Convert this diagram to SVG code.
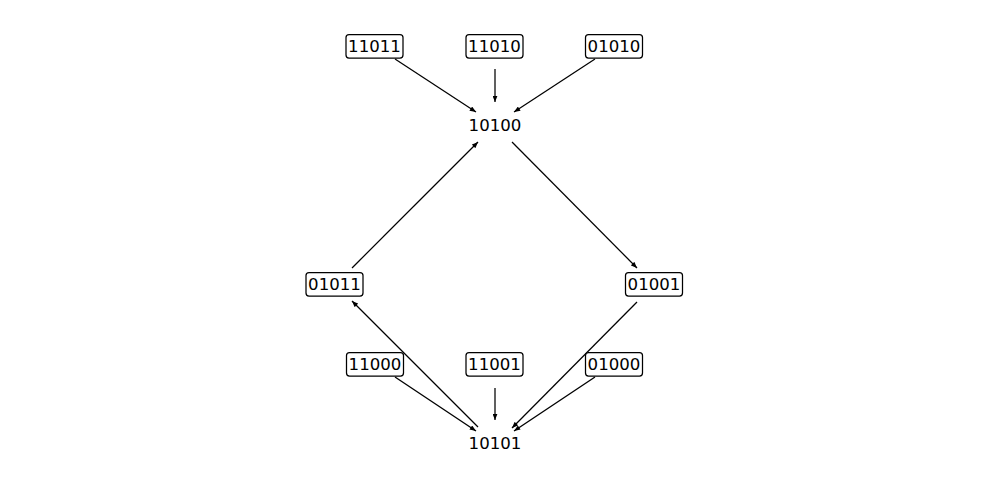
<svg xmlns="http://www.w3.org/2000/svg" width="989" height="490" viewBox="0 0 989 490">
<defs>
<marker id="ah" viewBox="0 0 10 8" refX="10" refY="4" markerWidth="6.5" markerHeight="5" markerUnits="userSpaceOnUse" orient="auto">
<path d="M0,0 L10,4 L0,8 Z" fill="#000"/>
</marker>
</defs>
<style>
.box{fill:#fff;stroke:#000;stroke-width:1.25}
.t{font-family:"DejaVu Sans",sans-serif;font-size:16.6px;fill:#000;text-anchor:middle;dominant-baseline:central}
.e{stroke:#000;stroke-width:1.25;fill:none;marker-end:url(#ah)}
</style>
<rect width="989" height="490" fill="#fff"/>
<g id="edges">
<line class="e" x1="395" y1="59" x2="476" y2="112"/>
<line class="e" x1="495" y1="69" x2="495" y2="102"/>
<line class="e" x1="595" y1="59" x2="514" y2="112"/>
<line class="e" x1="512" y1="142" x2="637" y2="268"/>
<line class="e" x1="352" y1="268" x2="478" y2="142"/>
<line class="e" x1="478" y1="427" x2="352" y2="301"/>
<line class="e" x1="637" y1="302" x2="512" y2="428"/>
<line class="e" x1="395" y1="377" x2="476" y2="431"/>
<line class="e" x1="495" y1="388" x2="495" y2="420"/>
<line class="e" x1="595" y1="377" x2="514" y2="431"/>
</g>
<g id="n11011"><rect class="box" x="346" y="34.5" width="57" height="23.5" rx="3"/><text class="t" x="374.5" y="46">11011</text></g>
<g id="n11010"><rect class="box" x="466" y="34.5" width="57" height="23.5" rx="3"/><text class="t" x="494.5" y="46">11010</text></g>
<g id="n01010"><rect class="box" x="585.5" y="34.5" width="57" height="23.5" rx="3"/><text class="t" x="614" y="46">01010</text></g>
<g id="n10100"><text class="t" x="495" y="125.5">10100</text></g>
<g id="n01011"><rect class="box" x="306" y="272.5" width="57" height="23.5" rx="3"/><text class="t" x="334.5" y="284">01011</text></g>
<g id="n01001"><rect class="box" x="625.5" y="272.5" width="57" height="23.5" rx="3"/><text class="t" x="654" y="284">01001</text></g>
<g id="n11000"><rect class="box" x="346.5" y="352.5" width="57" height="23.5" rx="3"/><text class="t" x="375" y="364">11000</text></g>
<g id="n11001"><rect class="box" x="466" y="352.5" width="57" height="23.5" rx="3"/><text class="t" x="494.5" y="364">11001</text></g>
<g id="n01000"><rect class="box" x="585.5" y="352.5" width="57" height="23.5" rx="3"/><text class="t" x="614" y="364">01000</text></g>
<g id="n10101"><text class="t" x="495" y="443.5">10101</text></g>
</svg>
